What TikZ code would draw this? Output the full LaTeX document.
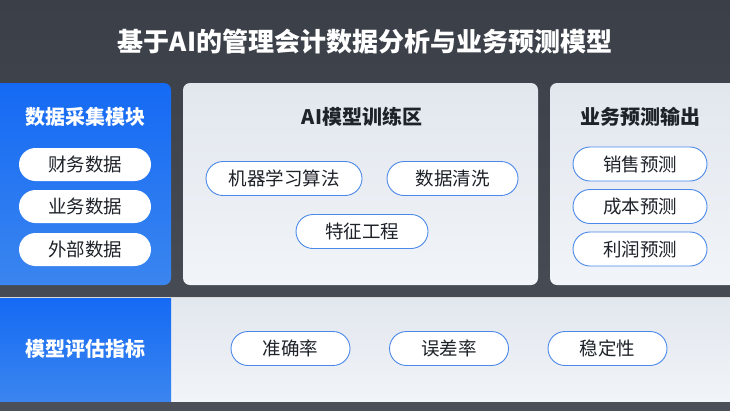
\documentclass[tikz,border=0pt]{standalone}
\usepackage{fontspec}
\setmainfont{Noto Sans CJK SC}
\definecolor{bgtop}{HTML}{3A3F48}
\definecolor{bgbot}{HTML}{4A4F58}
\definecolor{blueA}{HTML}{156AF4}
\definecolor{blueB}{HTML}{3A85EF}
\definecolor{lightA}{HTML}{E2E7EE}
\definecolor{lightB}{HTML}{F1F4F8}
\definecolor{pillline}{HTML}{4A88EA}
\definecolor{ink}{HTML}{1E2229}
\begin{document}
\begin{tikzpicture}[x=1pt,y=-1pt,
  pill/.style={draw=pillline, line width=0.9pt, fill=white, rounded corners=17pt,
    minimum height=34pt, inner sep=0pt, text=ink, font=\fontsize{18.5}{20}\selectfont},
  wpill/.style={fill=white, rounded corners=16.5pt, minimum width=132pt,
    minimum height=33pt, inner sep=0pt, text=ink, font=\fontsize{18.5}{20}\selectfont},
  headw/.style={text=white, font=\fontsize{20}{22}\selectfont\bfseries},
  headd/.style={text=ink, font=\fontsize{20}{22}\selectfont\bfseries},
  bluepanel/.style={top color=blueA, bottom color=blueB},
  lightpanel/.style={top color=lightA, bottom color=lightB}]
\useasboundingbox (0,0) rectangle (730,410);
% background
\fill[top color=bgtop, bottom color=bgbot] (0,0) rectangle (730,410);
% title
\node[text=white, font=\fontsize{26}{28}\selectfont\bfseries] (title) at (365,42) {基于AI的管理会计数据分析与业务预测模型};
% panels
\path[bluepanel, rounded corners=7pt] (-12,83) rectangle (171,285);
\path[lightpanel, rounded corners=7pt] (183,83) rectangle (538,285);
\path[lightpanel, rounded corners=7pt] (550,83) rectangle (745,285);
% bottom band
\path[lightpanel] (171,297) rectangle (730,401);
\path[bluepanel] (0,297) rectangle (171,401);
\draw[white!70!gray, line width=0.8pt] (0,297) -- (730,297);
% left module
\node[headw] (lt) at (85,117) {数据采集模块};
\node[wpill] (l1) at (85,164.5) {财务数据};
\node[wpill] (l2) at (85,206.5) {业务数据};
\node[wpill] (l3) at (85,249.5) {外部数据};
% middle module
\node[headd] (mt) at (362,117) {AI模型训练区};
\node[pill, minimum width=156pt] (m1) at (284,178.5) {机器学习算法};
\node[pill, minimum width=131pt] (m2) at (452.5,178.5) {数据清洗};
\node[pill, minimum width=132pt] (m3) at (362,231.5) {特征工程};
% right module
\node[headd] (rt) at (640,117) {业务预测输出};
\node[pill, minimum width=134pt] (r1) at (640,164) {销售预测};
\node[pill, minimum width=134pt] (r2) at (640,206.5) {成本预测};
\node[pill, minimum width=134pt] (r3) at (640,249) {利润预测};
% bottom
\node[headw] (bt) at (85,349) {模型评估指标};
\node[pill, minimum width=119pt] (b1) at (290.5,348.5) {准确率};
\node[pill, minimum width=119pt] (b2) at (449,348.5) {误差率};
\node[pill, minimum width=119pt] (b3) at (607.5,348.5) {稳定性};
\end{tikzpicture}
\end{document}
